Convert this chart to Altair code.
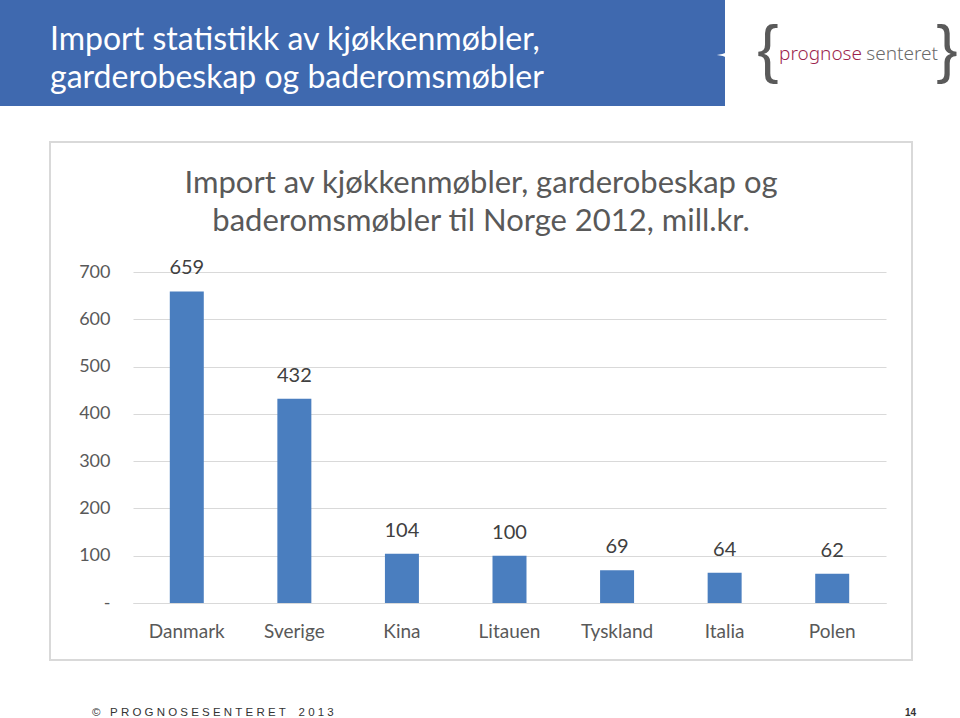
import altair as alt
import pandas as pd

countries = ["Danmark", "Sverige", "Kina", "Litauen", "Tyskland", "Italia", "Polen"]
values = [659, 432, 104, 100, 69, 64, 62]
y_ticks = [0, 100, 200, 300, 400, 500, 600, 700]

header_lines = ["Import statistikk av kjøkkenmøbler,", "garderobeskap og baderomsmøbler"]
chart_title_lines = ["Import av kjøkkenmøbler, garderobeskap og", "baderomsmøbler til Norge 2012, mill.kr."]
NB = "\u00a0"
footer_left = "©" + NB * 3 + NB.join("PROGNOSESENTERET") + NB * 4 + NB.join("2013")
footer_right = "14"
logo_a = "prognose"
logo_b = "senteret"

df = pd.DataFrame({"land": countries, "verdi": values})
one = alt.Data(values=[{"k": 1}])

# plot origin in page coordinates
OX, OY = 133, 272
W, H = 753, 331
FONT = "Lato"
GRAY = "#595959"


def px(x):
    return alt.value(x - OX)


def py(y):
    return alt.value(y - OY)


frame = alt.Chart(one).mark_rect(filled=False, stroke="#D9D9D9", strokeWidth=2).encode(
    x=px(50), x2=px(912), y=py(142), y2=py(660)
)

header = alt.Chart(one).mark_rect(fill="#3F69AF").encode(
    x=px(0), x2=px(725), y=py(0), y2=py(106)
)
notch = alt.Chart(one).mark_point(
    shape="M1,-1 Q0.1,-0.1 -1,0 Q0.1,0.1 1,1 Z",
    filled=True, fill="white", opacity=1, size=500, strokeWidth=0,
).encode(x=px(728), y=py(55))

head1 = alt.Chart(one).mark_text(
    text=header_lines[0], font=FONT, fontSize=32, color="white", align="left", baseline="middle"
).encode(x=px(50), y=py(40))
head2 = alt.Chart(one).mark_text(
    text=header_lines[1], font=FONT, fontSize=32, color="white", align="left", baseline="middle"
).encode(x=px(50), y=py(78))

brace_l = alt.Chart(one).mark_text(
    text="{", font="Liberation Sans", fontSize=64, color="#5a5a5a", align="center", baseline="middle"
).encode(x=px(768), y=py(52))
brace_r = alt.Chart(one).mark_text(
    text="}", font="Liberation Sans", fontSize=64, color="#5a5a5a", align="center", baseline="middle"
).encode(x=px(947), y=py(52))
logo1 = alt.Chart(one).mark_text(
    text=logo_a, font="Noto Sans", fontSize=19, fontWeight=300, color="#9C1F4E", align="left", baseline="middle"
).encode(x=px(779), y=py(54))
logo2 = alt.Chart(one).mark_text(
    text=logo_b, font="Noto Sans", fontSize=19, fontWeight=300, color="#6a6a6a", align="right", baseline="middle"
).encode(x=px(938), y=py(54))

t1 = alt.Chart(one).mark_text(
    text=chart_title_lines[0], font=FONT, fontSize=31, color=GRAY, align="center", baseline="middle"
).encode(x=px(481), y=py(184))
t2 = alt.Chart(one).mark_text(
    text=chart_title_lines[1], font=FONT, fontSize=31, color=GRAY, align="center", baseline="middle"
).encode(x=px(481), y=py(222))

foot1 = alt.Chart(one).mark_text(
    text=footer_left, font="Liberation Sans", fontSize=11.5, color="#333333", align="left", baseline="middle"
).encode(x=px(92), y=py(713))
foot2 = alt.Chart(one).mark_text(
    text=footer_right, font="Liberation Sans", fontSize=10, fontWeight="bold", color="#333333", align="right", baseline="middle"
).encode(x=px(916), y=py(713))

xenc = alt.X(
    "land:N", sort=countries, title=None,
    scale=alt.Scale(paddingInner=0.684, paddingOuter=0.342),
    axis=alt.Axis(labelAngle=0, labelFont=FONT, labelFontSize=19, labelColor=GRAY,
                  labelPadding=19, ticks=False, domainColor="#D9D9D9", domainWidth=1, grid=False),
)
yenc = alt.Y(
    "verdi:Q", title=None,
    scale=alt.Scale(domain=[0, 700], nice=False),
    axis=alt.Axis(values=y_ticks, labelFont=FONT, labelFontSize=18, labelColor=GRAY,
                  labelPadding=23, ticks=False, domain=False, gridColor="#D9D9D9", gridWidth=1,
                  labelExpr="datum.value == 0 ? '-' : datum.label"),
)

bars = alt.Chart(df).mark_bar(color="#4A7EBF").encode(x=xenc, y=yenc)
labels = alt.Chart(df).mark_text(
    font=FONT, fontSize=20, color="#404040", baseline="middle", dy=-23
).encode(x=alt.X("land:N", sort=countries), y=alt.Y("verdi:Q"), text="verdi:Q")

chart = alt.layer(
    frame, header, notch, head1, head2, brace_l, brace_r, logo1, logo2,
    t1, t2, foot1, foot2, bars, labels
).properties(
    width=W, height=H,
    padding={"left": OX, "top": OY, "right": 960 - OX - W, "bottom": 718 - OY - H},
    autosize=alt.AutoSizeParams(type="none"),
    background="white",
).configure_view(stroke=None)

chart.save("out.html", embed_options={"renderer": "svg", "actions": False})
